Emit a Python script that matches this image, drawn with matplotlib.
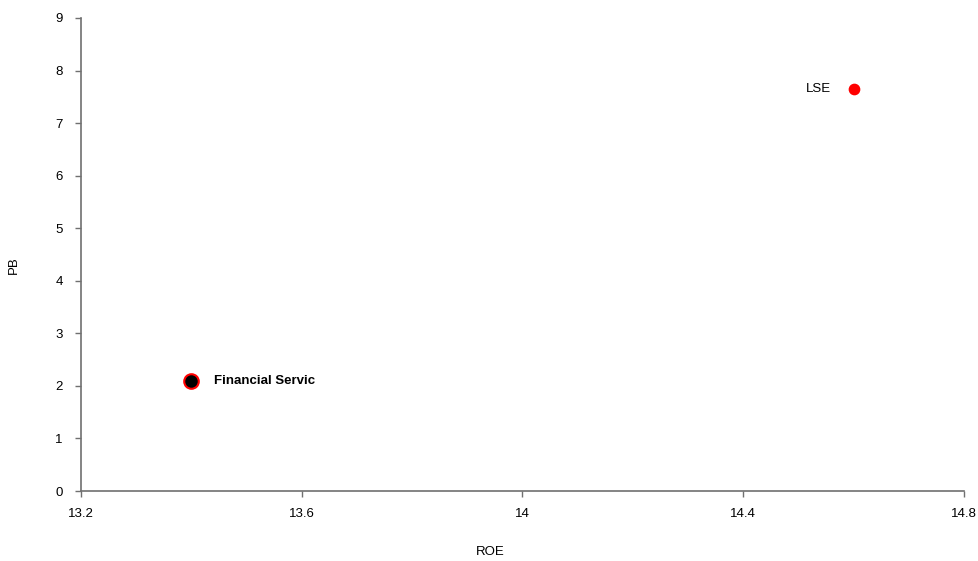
import matplotlib.pyplot as plt

plt.rcParams['font.family'] = ['Liberation Sans', 'DejaVu Sans']

# data
names = ['Financial Servic', 'LSE']
roe = [13.4, 14.6]
pb = [2.1, 7.65]

xticks = [13.2, 13.6, 14.0, 14.4, 14.8]
xticklabels = ['13.2', '13.6', '14', '14.4', '14.8']
yticks = list(range(0, 10))

fig = plt.figure(figsize=(9.79, 5.61), dpi=100)
ax = fig.add_axes([81 / 979, 70 / 561, 883 / 979, 473 / 561])

# Financial services: black dot, red edge
ax.scatter(roe[0], pb[0], s=110, color='black', edgecolors='#ff0000', linewidths=1.5, zorder=3)
# LSE: red dot
ax.scatter(roe[1], pb[1], s=55, color='#ff0000', edgecolors='#ff0000', zorder=3)

ax.annotate(names[0], (roe[0], pb[0]), xytext=(16, 0), textcoords='offset points',
            va='center', ha='left', fontsize=9.5, fontweight='bold')
ax.annotate(names[1], (roe[1], pb[1]), xytext=(-16, 0), textcoords='offset points',
            va='center', ha='right', fontsize=9.5)

ax.set_xlim(13.2, 14.8)
ax.set_ylim(0, 9)
ax.set_xticks(xticks)
ax.set_xticklabels(xticklabels)
ax.set_yticks(yticks)

for s in ['top', 'right']:
    ax.spines[s].set_visible(False)
for s in ['left', 'bottom']:
    ax.spines[s].set_color('#707070')
    ax.spines[s].set_linewidth(1.2)
ax.tick_params(axis='both', direction='out', length=4, width=1, color='#707070',
               labelsize=9.5)
ax.tick_params(axis='x', pad=8)
ax.tick_params(axis='y', pad=9)

fig.text(490 / 979, 1 - 552 / 561, 'ROE', ha='center', va='center', fontsize=9.5)
fig.text(14 / 979, 1 - 265 / 561, 'PB', ha='center', va='center', fontsize=9.5, rotation=90)

fig.savefig('out.png', dpi=100)
